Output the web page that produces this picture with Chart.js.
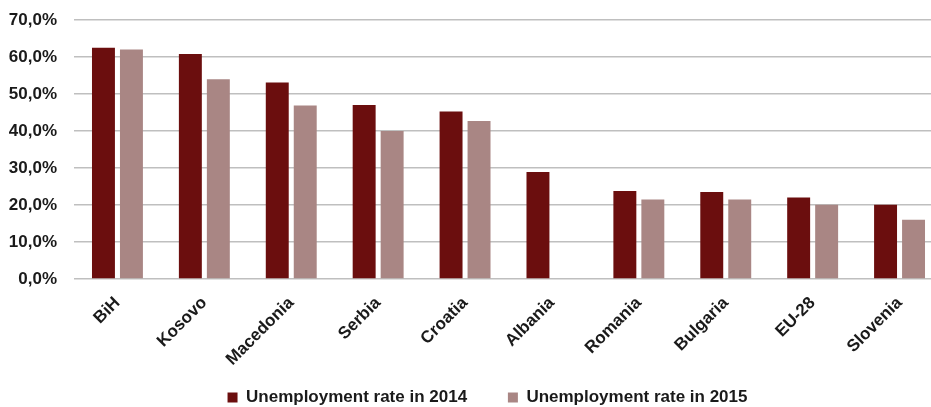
<!DOCTYPE html>
<html>
<head>
<meta charset="utf-8">
<script src="https://cdn.jsdelivr.net/npm/chart.js@4"></script>
<style>
  html, body { margin: 0; padding: 0; background: #fff; overflow: hidden; }
  canvas { display: block; }
</style>
</head>
<body>
<canvas id="unemploymentChart" width="943" height="407"></canvas>
<script>
// Categories and values
const countries = ['BiH', 'Kosovo', 'Macedonia', 'Serbia', 'Croatia', 'Albania', 'Romania', 'Bulgaria', 'EU-28', 'Slovenia'];
const rate2014 = [62.5, 60.8, 53.1, 47.0, 45.3, 28.9, 23.8, 23.5, 22.0, 20.1];
const rate2015 = [62.0, 54.0, 46.9, 40.0, 42.7, null, 21.5, 21.5, 20.1, 16.0];
const yTicks = [0, 10, 20, 30, 40, 50, 60, 70];

const font = { family: "'Liberation Sans', Arial, sans-serif", size: 17, weight: 'bold' };

// nudge the legend row a bit to the right, like in the original
const legendOffset = {
  id: 'legendOffset',
  afterLayout: function(chart) {
    chart.legend.left += 32;
  }
};

const ctx = document.getElementById('unemploymentChart');

new Chart(ctx, {
  type: 'bar',
  data: {
    labels: countries,
    datasets: [{
      // trailing spaces give the gap between the two legend items
      label: 'Unemployment rate in 2014        ',
      data: rate2014,
      backgroundColor: '#6b0e0e',
      categoryPercentage: 0.644,
      barPercentage: 0.82
    }, {
      label: 'Unemployment rate in 2015',
      data: rate2015,
      backgroundColor: '#a98684',
      categoryPercentage: 0.644,
      barPercentage: 0.82
    }]
  },
  options: {
    responsive: false,
    animation: false,
    layout: { padding: { top: 0, left: 0, right: 0, bottom: -9 } },
    scales: {
      x: {
        grid: { display: false },
        border: { display: false },
        ticks: {
          color: '#1a1a1a',
          font: font,
          autoSkip: false,
          minRotation: 45,
          maxRotation: 45,
          padding: 6
        },
        afterFit: function(scale) { scale.height = 107; }
      },
      y: {
        min: 0,
        max: 70,
        afterBuildTicks: function(scale) {
          scale.ticks = yTicks.map(v => ({ value: v }));
        },
        grid: { color: '#bfbfbf', lineWidth: 1.5, drawTicks: false },
        border: { display: false },
        ticks: {
          color: '#1a1a1a',
          font: font,
          padding: 17,
          callback: function(value) {
            return value.toFixed(1).replace('.', ',') + '%';
          }
        },
        afterFit: function(scale) {
          scale.width = 74;
          scale.paddingTop = 20;
          scale.paddingBottom = 0;
        }
      }
    },
    plugins: {
      legend: {
        position: 'bottom',
        labels: {
          color: '#1a1a1a',
          font: font,
          boxWidth: 10,
          boxHeight: 10,
          padding: 3
        }
      },
      tooltip: { enabled: false }
    }
  },
  plugins: [legendOffset]
});
</script>
</body>
</html>
